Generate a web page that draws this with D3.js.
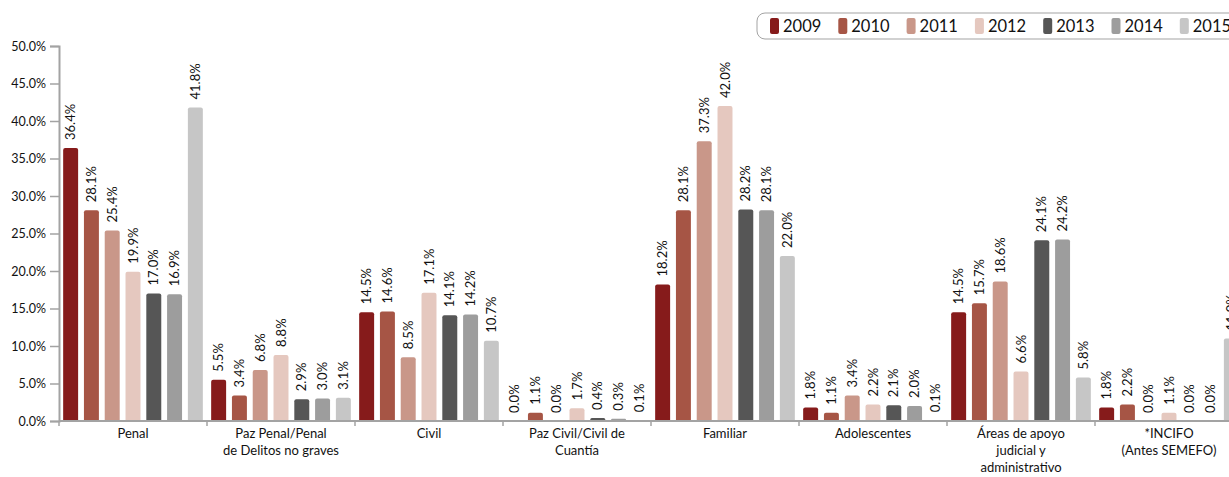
<!DOCTYPE html>
<html>
<head>
<meta charset="utf-8">
<script src="https://cdn.jsdelivr.net/npm/d3@7"></script>
<style>
  body { margin: 0; background: #fff; }
  svg { font-family: Lato, "Open Sans", sans-serif; display: block; }
</style>
</head>
<body>
<script>
var width = 1229,
  height = 477;

// categories (line breaks as in the original labels)
var categories = [
  "Penal",
  "Paz Penal/Penal\nde Delitos no graves",
  "Civil",
  "Paz Civil/Civil de\nCuantía",
  "Familiar",
  "Adolescentes",
  "Áreas de apoyo\njudicial y\nadministrativo",
  "*INCIFO\n(Antes SEMEFO)"
];
var years = ["2009", "2010", "2011", "2012", "2013", "2014", "2015"];
var colors = ["#861b1b", "#a65545", "#c99789", "#e5c8bf", "#565656", "#9d9d9d", "#c6c6c6"];

// one array per year, in category order (percent)
var v2009 = [36.4, 5.5, 14.5, 0.0, 18.2, 1.8, 14.5, 1.8];
var v2010 = [28.1, 3.4, 14.6, 1.1, 28.1, 1.1, 15.7, 2.2];
var v2011 = [25.4, 6.8, 8.5, 0.0, 37.3, 3.4, 18.6, 0.0];
var v2012 = [19.9, 8.8, 17.1, 1.7, 42.0, 2.2, 6.6, 1.1];
var v2013 = [17.0, 2.9, 14.1, 0.4, 28.2, 2.1, 24.1, 0.0];
var v2014 = [16.9, 3.0, 14.2, 0.3, 28.1, 2.0, 24.2, 0.0];
var v2015 = [41.8, 3.1, 10.7, 0.1, 22.0, 0.1, 5.8, 11.0];
var series = [v2009, v2010, v2011, v2012, v2013, v2014, v2015];

var yTicks = [0, 5, 10, 15, 20, 25, 30, 35, 40, 45, 50];

var margin = { left: 59, top: 46, bottom: 421 };

var svg = d3.select("body").append("svg")
  .attr("width", width)
  .attr("height", height);

var x = d3.scaleBand()
  .domain(categories)
  .range([margin.left, margin.left + categories.length * 148]);

var xInner = d3.scaleBand()
  .domain(years)
  .range([0, x.bandwidth()])
  .paddingInner(0.28)
  .paddingOuter(0.2);

var y = d3.scaleLinear()
  .domain([0, 50])
  .range([margin.bottom, margin.top]);

var fmt = function (d) { return d.toFixed(1) + "%"; };

// bars with rounded top corners
function barPath(x0, w, yTop, yBase) {
  var r = Math.min(2, (yBase - yTop) / 2, w / 2);
  return "M" + x0 + "," + yBase +
    "V" + (yTop + r) +
    "Q" + x0 + "," + yTop + " " + (x0 + r) + "," + yTop +
    "H" + (x0 + w - r) +
    "Q" + (x0 + w) + "," + yTop + " " + (x0 + w) + "," + (yTop + r) +
    "V" + yBase + "Z";
}

var rows = [];
categories.forEach(function (c, i) {
  years.forEach(function (yr, j) {
    rows.push({ cat: c, year: yr, value: series[j][i], color: colors[j] });
  });
});

var g = svg.append("g");

g.selectAll("path.bar")
  .data(rows.filter(function (d) { return d.value > 0; }))
  .enter()
  .append("path")
  .attr("class", "bar")
  .attr("fill", function (d) { return d.color; })
  .attr("d", function (d) {
    return barPath(x(d.cat) + xInner(d.year), xInner.bandwidth(), y(d.value), y(0));
  });

// value labels, rotated
g.selectAll("text.val")
  .data(rows)
  .enter()
  .append("text")
  .attr("class", "val")
  .attr("transform", function (d) {
    var cx = x(d.cat) + xInner(d.year) + xInner.bandwidth() / 2;
    return "translate(" + cx + "," + (y(d.value) - 8) + ") rotate(-90)";
  })
  .attr("dy", "0.35em")
  .attr("font-size", 13)
  .attr("fill", "#111")
  .text(function (d) { return fmt(d.value); });

// y axis
var yAxis = svg.append("g")
  .attr("transform", "translate(" + margin.left + ",0)")
  .call(d3.axisLeft(y).tickValues(yTicks).tickFormat(fmt).tickSize(9).tickPadding(4));
yAxis.select(".domain").attr("stroke", "#a3a3a3").attr("stroke-width", 2);
yAxis.selectAll(".tick line").attr("stroke", "#a3a3a3").attr("stroke-width", 1.5);
yAxis.selectAll(".tick text").attr("font-size", 12.5).attr("fill", "#111")
  .attr("font-family", "Lato, sans-serif");

// x axis line and separators
svg.append("line")
  .attr("x1", margin.left).attr("x2", width)
  .attr("y1", y(0)).attr("y2", y(0))
  .attr("stroke", "#a3a3a3").attr("stroke-width", 2);

svg.selectAll("line.sep")
  .data(categories)
  .enter()
  .append("line")
  .attr("class", "sep")
  .attr("x1", function (d) { return x(d); })
  .attr("x2", function (d) { return x(d); })
  .attr("y1", y(0)).attr("y2", y(0) + 5)
  .attr("stroke", "#a3a3a3").attr("stroke-width", 1.5);

var catText = svg.selectAll("text.cat")
  .data(categories)
  .enter()
  .append("text")
  .attr("class", "cat")
  .attr("text-anchor", "middle")
  .attr("font-size", 13)
  .attr("fill", "#111")
  .attr("transform", function (d) { return "translate(" + (x(d) + x.bandwidth() / 2) + "," + (y(0) + 17) + ")"; });

catText.selectAll("tspan")
  .data(function (d) { return d.split("\n"); })
  .enter()
  .append("tspan")
  .attr("x", 0)
  .attr("y", function (d, i) { return i * 17; })
  .text(function (d) { return d; });

// legend
var legend = svg.append("g").attr("transform", "translate(757,13)");
legend.append("rect")
  .attr("width", 520).attr("height", 26).attr("rx", 8)
  .attr("fill", "#fff").attr("stroke", "#a3a3a3").attr("stroke-width", 1);

var stepLegend = 68.3;
var item = legend.selectAll("g.item")
  .data(years)
  .enter()
  .append("g")
  .attr("class", "item")
  .attr("transform", function (d, i) { return "translate(" + (13 + i * stepLegend) + ",0)"; });

item.append("rect")
  .attr("y", 5).attr("width", 9).attr("height", 16).attr("rx", 2)
  .attr("fill", function (d, i) { return colors[i]; });

item.append("text")
  .attr("x", 13).attr("y", 19)
  .attr("font-size", 16.5)
  .attr("fill", "#111")
  .text(function (d) { return d; });
</script>
</body>
</html>
